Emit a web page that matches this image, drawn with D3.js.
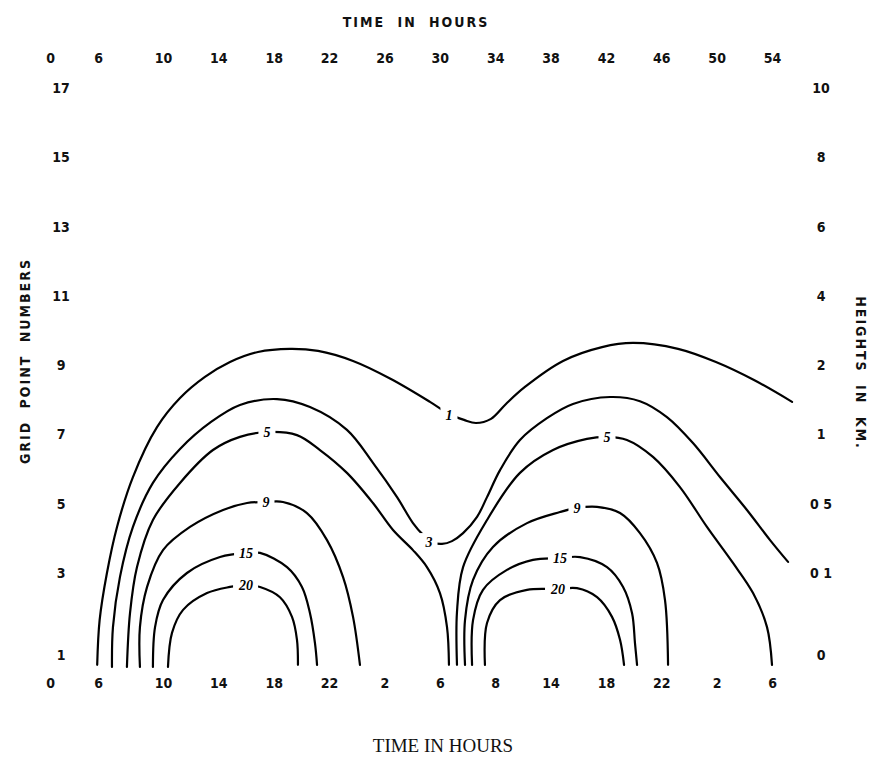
<!DOCTYPE html>
<html>
<head>
<meta charset="utf-8">
<script src="https://cdn.jsdelivr.net/npm/d3@7"></script>
<style>
  body { margin: 0; background: #fff; }
  svg { display: block; }
  .axis text, .title {
    font-family: 'DejaVu Sans Condensed', 'Liberation Sans Narrow', 'DejaVu Sans', sans-serif;
    font-weight: bold;
    fill: #111;
  }
  .axis text { font-size: 14px; }
  .title { font-size: 14px; letter-spacing: 2px; word-spacing: 6px; }
  .bottom-title { font-family: 'Liberation Serif', 'DejaVu Serif', serif; font-size: 19px; fill: #111; }
  .contour { fill: none; stroke: #000; stroke-width: 2.2; stroke-linecap: round; }
  .clabel { font-family: 'Liberation Serif', 'DejaVu Serif', serif; font-style: italic; font-weight: bold; font-size: 14px; fill: #000; }
</style>
</head>
<body>
<div id="chart"></div>
<script>
// tick values / labels
const hourTicks = [0, 6, 10, 14, 18, 22, 26, 30, 34, 38, 42, 46, 50, 54];
const localTimeLabels = ["0", "6", "10", "14", "18", "22", "2", "6", "8", "14", "18", "22", "2", "6"];
const gridTicks = [1, 3, 5, 7, 9, 11, 13, 15, 17];
const heightLabels = ["0", "0 1", "0 5", "1", "2", "4", "6", "8", "10"];

// contour lines as [hour, grid point]
const contour1 = [[5.9,0.76],[6.1,1.85],[6.55,3],[7.17,4.33],[8.15,5.77],[9.63,7.21],[11.23,8.05],[13.03,8.66],[14.84,9.09],[16.86,9.38],[19.18,9.47],[21.2,9.41],[23.73,9.12],[26.47,8.6],[29.29,7.94],[30.66,7.59],[31.75,7.42],[32.61,7.33],[33.7,7.45],[34.78,7.88],[36.15,8.37],[38.9,9.12],[41.72,9.52],[43.96,9.64],[47.21,9.47],[49.95,9.09],[52.7,8.57],[55.45,7.94]];
const contour3 = [[6.86,0.71],[6.92,1.68],[7.35,2.9],[8.15,4.33],[9.38,5.6],[11.23,6.58],[13.47,7.36],[15.56,7.85],[18.24,8.02],[20.62,7.79],[23.29,7.13],[25.17,6.18],[26.91,5.19],[28.06,4.44],[28.79,4.1],[29.43,3.89],[30.16,3.84],[30.88,3.92],[31.68,4.15],[32.69,4.62],[33.41,5.19],[34.35,5.97],[35.79,6.84],[37.74,7.47],[39.62,7.88],[42.3,8.08],[44.46,7.96],[46.41,7.5],[48.29,6.75],[50.24,5.77],[52.19,4.82],[53.86,3.95],[55.16,3.32]];
const contour5L = [[7.78,0.71],[7.97,2.02],[8.4,3.17],[9.38,4.53],[11.23,5.6],[13.61,6.55],[15.56,6.93],[17.51,7.07],[19.68,6.98],[21.34,6.55],[23.29,5.89],[25.17,5.02],[26.62,4.24],[28.06,3.66],[29.07,3.17],[30.01,2.51],[30.52,1.68],[30.66,0.76]];
const contour5R = [[31.24,0.76],[31.24,2.05],[31.68,3.17],[33.41,4.53],[35.79,5.89],[38.18,6.55],[40.63,6.87],[42.08,6.93],[43.52,6.84],[45.4,6.35],[47.35,5.48],[49.3,4.33],[51.18,3.29],[52.63,2.51],[53.64,1.68],[54.0,0.76]];
const contour9L = [[8.58,0.71],[8.58,1.68],[9.02,2.66],[10,3.66],[11.95,4.33],[14.34,4.82],[16.07,5.02],[17.44,5.05],[18.67,5.05],[20.4,4.73],[21.85,3.95],[23.01,2.9],[23.73,1.93],[24.23,0.76]];
const contour9R = [[31.82,0.76],[31.82,1.85],[32.4,2.83],[33.84,3.75],[36.3,4.44],[38.68,4.76],[39.91,4.88],[41.36,4.91],[43.02,4.73],[44.46,4.15],[45.69,3.29],[46.27,2.34],[46.49,0.76]];
const contour15L = [[9.38,0.71],[9.51,1.68],[10,2.34],[11.73,3],[14.12,3.46],[16,3.58],[17.01,3.58],[18.96,3.17],[20.04,2.66],[20.62,2.02],[20.98,1.29],[21.13,0.76]];
const contour15R = [[32.33,0.76],[32.4,1.85],[33.12,2.59],[34.85,3.09],[36.73,3.38],[38.54,3.43],[40.13,3.46],[42.08,3.17],[43.24,2.66],[43.89,2.02],[44.1,1.29],[44.25,0.76]];
const contour20L = [[10.36,0.71],[10.65,1.54],[11.45,2.1],[13.18,2.51],[14.84,2.66],[16,2.71],[17.01,2.66],[18.45,2.41],[19.32,1.93],[19.68,1.37],[19.75,0.76]];
const contour20R = [[33.26,0.76],[33.41,1.78],[34.35,2.34],[36.3,2.59],[38.54,2.61],[39.91,2.63],[41.36,2.41],[42.44,1.93],[43.02,1.37],[43.31,0.76]];

// contour labels
const labelText = ["1", "3", "5", "5", "9", "9", "15", "15", "20", "20"];
const labelAt = [[30.66,7.56],[29.22,3.89],[17.51,7.07],[42.08,6.93],[17.44,5.05],[39.91,4.88],[16.0,3.58],[38.68,3.43],[16.0,2.71],[38.54,2.61]];

const width = 871, height = 765;

const svg = d3.select("#chart").append("svg")
    .attr("width", width)
    .attr("height", height);

// hand-drawn axis: the first two hour ticks are spaced wider than the rest
const x = d3.scaleLinear().domain([0, 6, 10, 54]).range([50, 98, 163, 772]);
const y = d3.scaleLinear().domain([1, 3, 17]).range([655, 573, 88]);

const topAxis = svg.append("g").attr("class", "axis")
    .attr("transform", "translate(0, 63)")
    .call(d3.axisTop(x).tickValues(hourTicks).tickSize(0).tickPadding(0).tickFormat(d3.format("d")));

const bottomAxis = svg.append("g").attr("class", "axis")
    .attr("transform", "translate(0, 678)")
    .call(d3.axisBottom(x).tickValues(hourTicks).tickSize(0).tickPadding(0)
        .tickFormat((d, i) => localTimeLabels[i]));

const leftAxis = svg.append("g").attr("class", "axis")
    .attr("transform", "translate(61, 0)")
    .call(d3.axisLeft(y).tickValues(gridTicks).tickSize(0).tickPadding(0).tickFormat(d3.format("d")));

const rightAxis = svg.append("g").attr("class", "axis")
    .attr("transform", "translate(821, 0)")
    .call(d3.axisRight(y).tickValues(gridTicks).tickSize(0).tickPadding(0)
        .tickFormat((d, i) => heightLabels[i]));

svg.selectAll(".axis .domain").remove();
leftAxis.selectAll("text").attr("text-anchor", "middle");
rightAxis.selectAll("text").attr("text-anchor", "middle");

// contours
const line = d3.line()
    .x(d => x(d[0]))
    .y(d => y(d[1]))
    .curve(d3.curveCatmullRom.alpha(0.5));

const contours = [contour1, contour3, contour5L, contour5R, contour9L, contour9R,
    contour15L, contour15R, contour20L, contour20R];

svg.append("g").selectAll("path")
    .data(contours)
    .join("path")
    .attr("class", "contour")
    .attr("d", line);

// labels sit in a gap of the line
const labels = svg.append("g").selectAll("g")
    .data(labelAt)
    .join("g")
    .attr("transform", d => `translate(${x(d[0])}, ${y(d[1])})`);

labels.append("rect").attr("fill", "#fff");
labels.append("text")
    .attr("class", "clabel")
    .attr("text-anchor", "middle")
    .attr("dy", "0.35em")
    .text((d, i) => labelText[i]);

labels.each(function() {
    const g = d3.select(this);
    const b = g.select("text").node().getBBox();
    g.select("rect")
        .attr("x", b.x - 5).attr("y", b.y - 2)
        .attr("width", b.width + 10).attr("height", b.height + 4);
});

// titles
svg.append("text").attr("class", "title")
    .attr("x", 416).attr("y", 27)
    .attr("text-anchor", "middle")
    .text("TIME IN HOURS");

svg.append("text").attr("class", "title")
    .attr("transform", "translate(30, 361) rotate(-90)")
    .attr("text-anchor", "middle")
    .text("GRID POINT NUMBERS");

svg.append("text").attr("class", "title")
    .attr("transform", "translate(856, 373) rotate(90)")
    .attr("text-anchor", "middle")
    .text("HEIGHTS IN KM.");

svg.append("text").attr("class", "bottom-title")
    .attr("x", 443).attr("y", 752)
    .attr("text-anchor", "middle")
    .text("TIME IN HOURS");
</script>
</body>
</html>
